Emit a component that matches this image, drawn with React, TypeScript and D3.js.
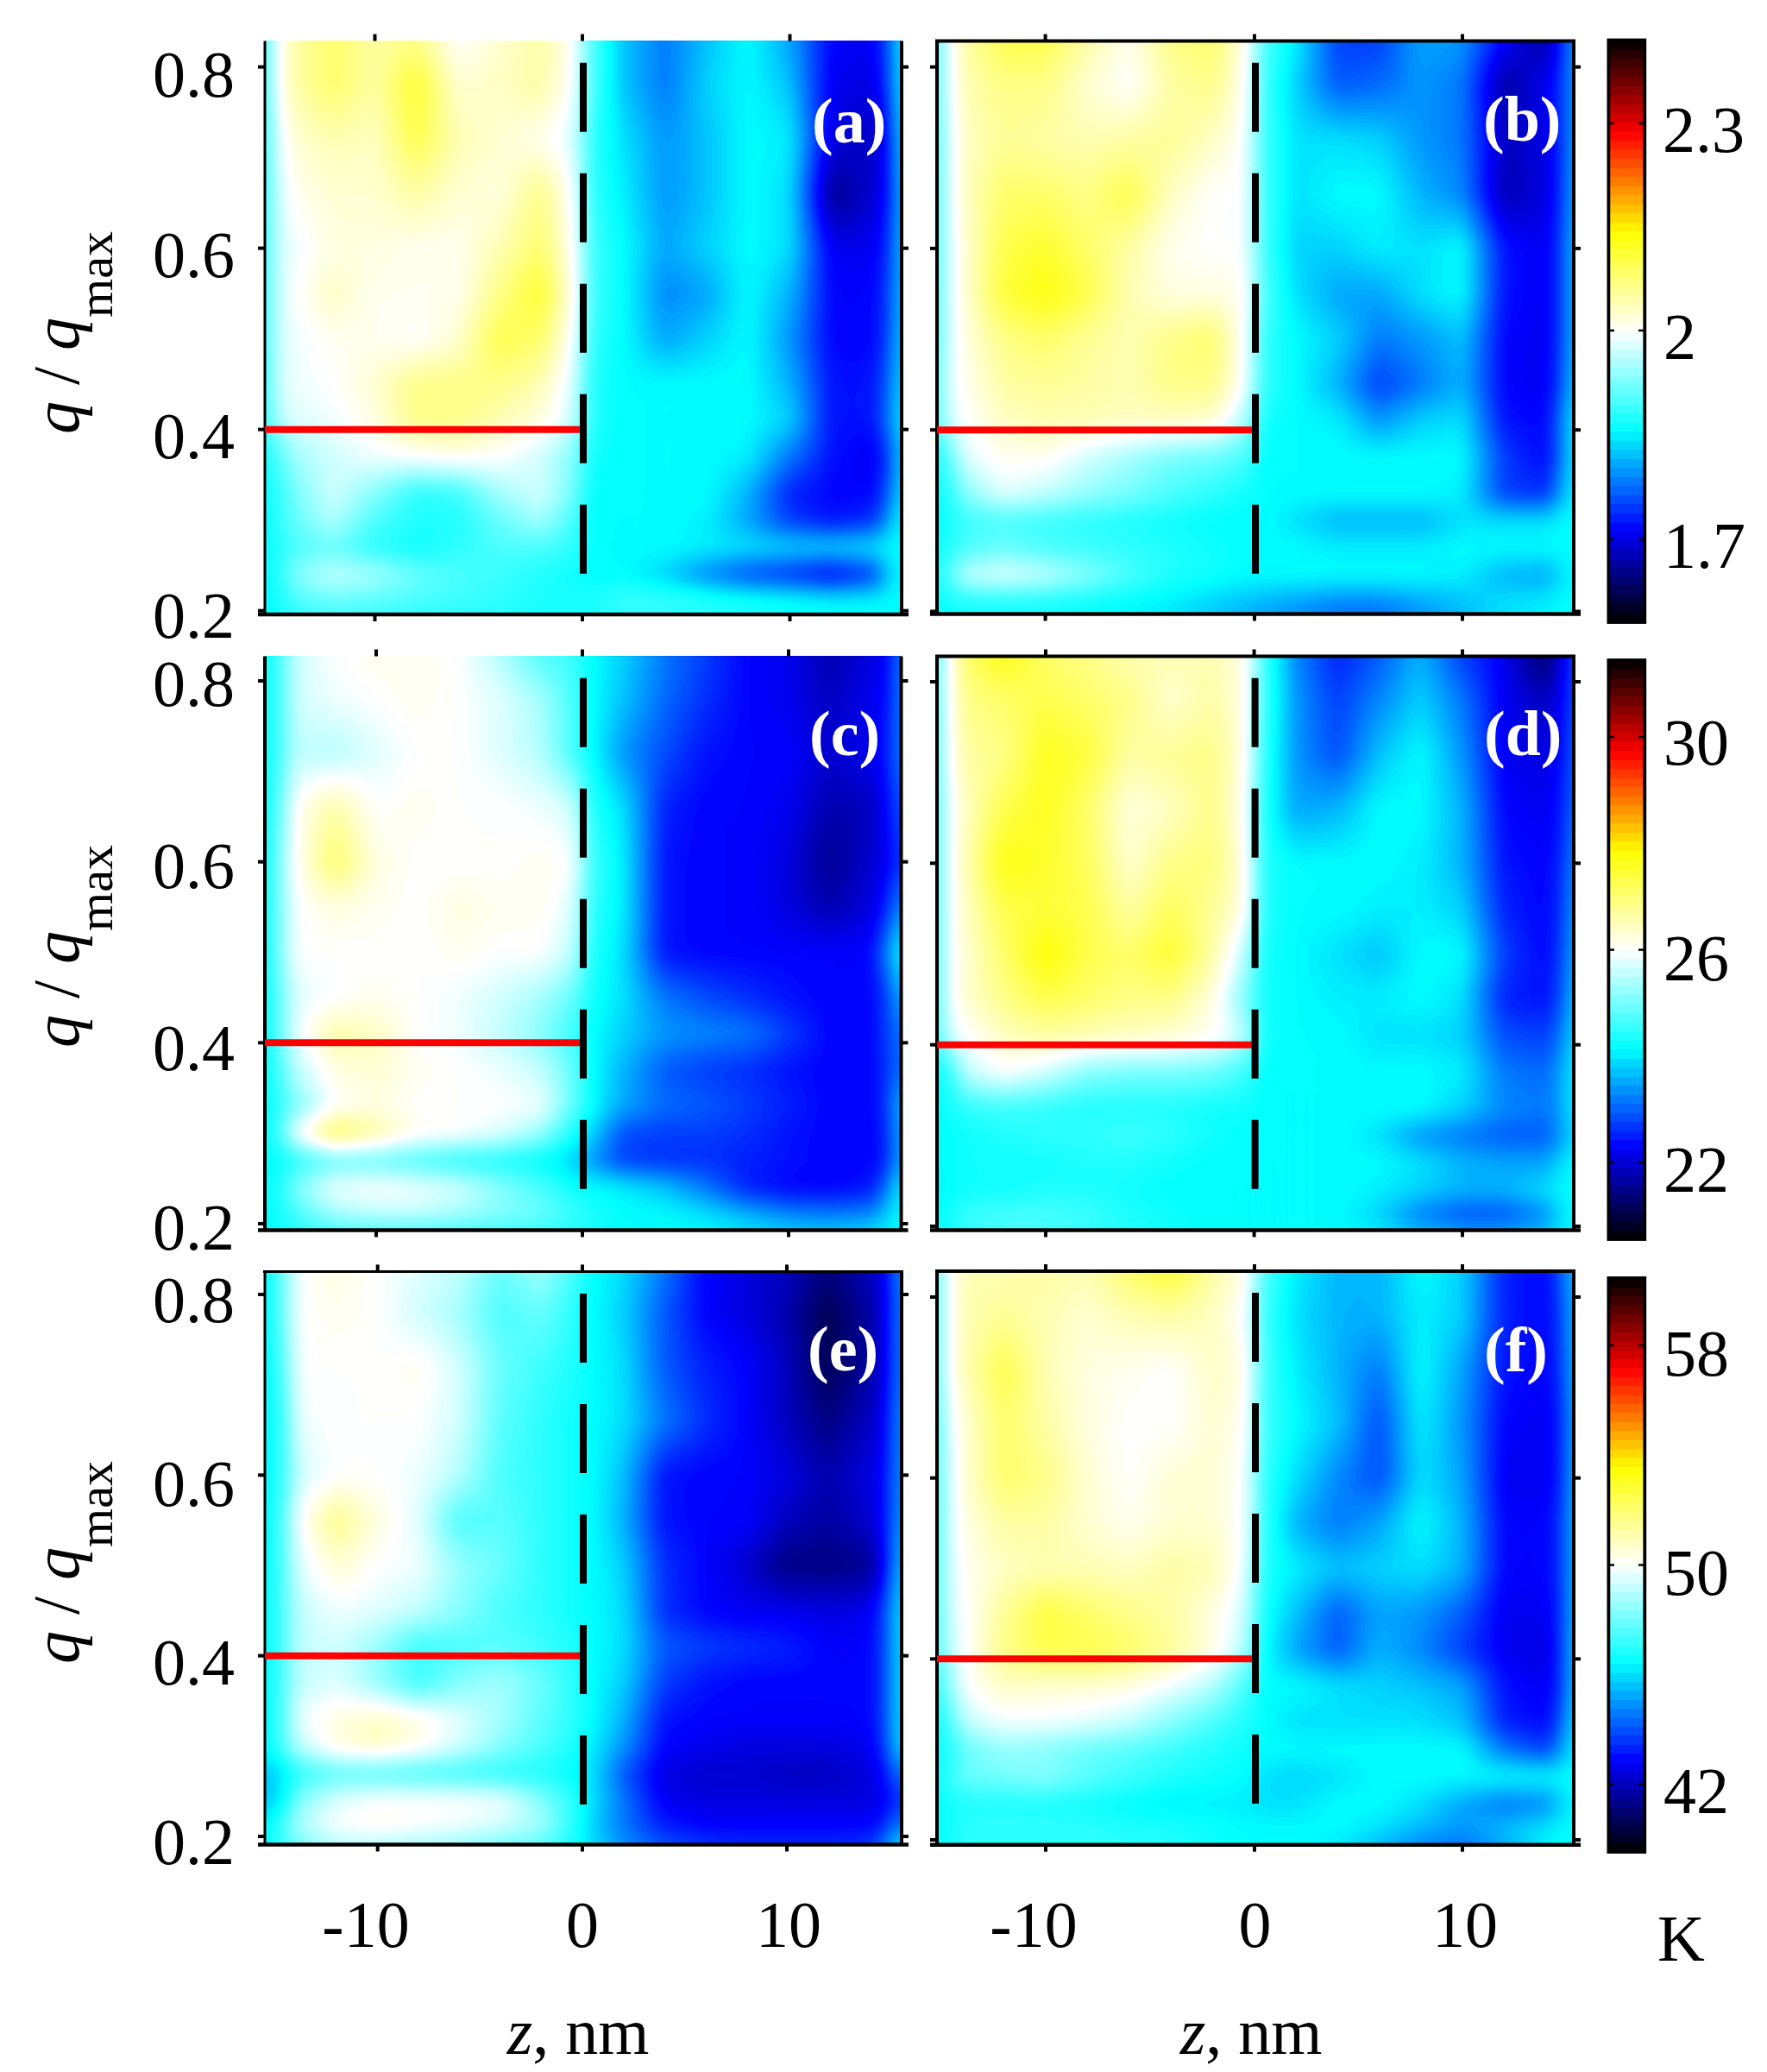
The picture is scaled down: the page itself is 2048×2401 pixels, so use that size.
import React, { useMemo } from "react";
import * as d3 from "d3";

// Sample positions of the maps
const columnZ = [-15.3,-14.7,-13.8,-12,-10,-8,-6,-4,-2,-0.5,0.5,2,4,6,8,10,12,14,14.8,15.3];
const rowQ = [0.83,0.78,0.72,0.66,0.60,0.55,0.50,0.45,0.41,0.37,0.33,0.30,0.27,0.24,0.21,0.19];

// Map values, as a position on the colour bar (0 = bottom, 50 = white, 100 = top)
const panelA = [
[35,50,56,60,56,58,50,53,56,51,38,29,24,29,33,27,16,15,22,33],
[35,50,56,60,56,64,53,54,56,50,38,29,24,30,33,29,15,14,20,33],
[35,48,53,55,54,62,55,53,51,48,36,31,26,29,33,32,14,12,17,32],
[35,47,51,53,53,56,53,52,58,50,36,32,26,29,33,31,9,13,17,30],
[35,47,49,52,52,51,51,55,60,51,37,33,27,30,33,31,15,15,19,30],
[35,47,50,54,51,51,51,58,64,52,37,33,25,27,33,28,16,16,20,30],
[35,47,49,51,51,50,53,62,60,50,36,33,27,30,33,26,16,16,21,30],
[35,47,49,50,53,58,58,58,55,48,35,33,33,33,33,28,17,17,23,31],
[35,45,48,49,52,58,58,55,52,47,35,33,33,33,33,30,17,17,24,32],
[34,38,44,47,49,50,51,50,47,42,34,33,33,33,32,24,17,15,20,31],
[33,36,41,47,42,36,37,44,47,41,33,33,33,33,28,18,16,16,22,32],
[33,36,40,45,38,35,35,40,44,38,33,33,33,32,27,20,17,19,27,33],
[33,35,38,40,36,34,36,38,38,36,33,33,33,32,31,30,30,31,33,33],
[33,35,42,46,44,40,38,37,35,34,33,33,30,25,21,19,16,20,30,33],
[33,34,38,40,39,38,37,36,35,35,35,37,37,36,35,34,33,33,33,33],
[33,34,35,36,36,35,35,35,34,34,34,35,35,34,34,33,33,33,33,33],
];
const panelB = [
[33,48,56,62,62,56,51,58,60,52,38,32,20,20,27,26,16,10,18,28],
[33,48,55,58,58,53,50,56,58,51,37,30,22,23,26,24,10,15,19,28],
[33,47,54,57,56,55,56,57,54,50,37,31,31,30,26,24,12,14,19,28],
[33,47,54,60,60,58,62,54,50,50,37,31,33,33,28,25,11,14,19,29],
[33,47,53,62,64,60,56,51,50,50,37,30,30,32,31,33,17,15,20,30],
[33,47,53,63,66,62,55,52,52,51,38,31,27,27,31,33,17,15,20,30],
[33,47,52,58,60,57,55,58,60,50,36,33,30,24,26,29,16,15,20,30],
[33,48,51,56,57,56,55,58,58,50,36,33,28,20,24,28,16,15,21,31],
[33,47,50,54,55,55,54,54,53,45,34,33,32,26,30,31,17,16,24,33],
[33,38,48,51,51,47,44,41,40,38,33,33,33,33,33,33,20,16,24,33],
[33,35,42,48,46,43,41,38,36,34,33,33,33,33,33,32,20,19,27,33],
[33,34,37,38,37,36,35,34,33,33,33,31,28,28,28,31,31,31,33,33],
[33,35,38,40,38,37,36,35,34,33,33,33,32,32,32,33,33,33,33,33],
[33,38,46,48,46,42,38,35,34,33,33,33,33,33,33,32,28,27,31,33],
[33,34,35,35,35,34,33,32,30,29,28,27,25,25,27,29,31,32,33,33],
[33,33,33,33,33,33,32,31,29,27,26,24,22,22,25,28,31,32,33,33],
];
const panelC = [
[33,38,47,50,51,51,50,45,38,37,33,30,24,20,16,15,11,14,15,25],
[33,38,47,49,50,51,50,48,44,38,33,29,23,19,16,15,12,15,16,25],
[33,38,46,45,48,50,50,48,45,38,33,26,21,17,16,16,13,15,17,25],
[33,40,51,56,50,51,50,50,49,47,35,31,18,16,16,15,11,12,16,22],
[33,42,51,60,52,50,50,50,51,50,37,32,17,16,16,14,9,13,15,20],
[33,42,50,52,51,50,52,51,51,48,36,32,17,16,16,14,11,14,18,26],
[33,42,50,50,50,50,51,50,50,46,35,31,17,16,16,16,16,16,25,33],
[33,40,48,50,51,50,49,47,44,40,34,31,24,21,19,17,16,16,20,28],
[33,40,49,56,54,50,49,46,42,37,33,30,26,25,24,20,16,16,20,24],
[33,38,46,52,53,51,50,49,46,40,33,28,22,20,19,17,16,16,19,24],
[33,36,42,50,52,50,50,50,49,40,33,27,23,22,20,18,16,16,19,29],
[33,38,50,61,56,51,50,48,43,35,30,21,20,20,19,17,16,16,18,28],
[33,33,36,40,40,38,36,35,33,30,26,20,19,19,18,17,16,16,18,28],
[33,35,42,49,50,49,47,42,38,34,33,32,29,24,18,16,16,17,24,32],
[33,34,38,44,46,46,44,42,40,37,35,33,33,31,28,25,24,25,30,33],
[33,34,35,36,36,36,36,36,36,35,34,33,33,33,32,31,31,32,33,33],
];
const panelD = [
[33,50,60,66,60,58,55,55,55,52,37,25,18,22,28,20,15,6,14,22],
[33,50,58,60,62,60,58,53,56,52,37,26,20,25,30,24,15,12,15,23],
[33,50,56,58,65,63,56,57,58,52,36,26,21,29,33,26,15,14,16,24],
[33,49,54,62,65,60,52,54,58,51,35,27,28,33,33,28,16,15,17,25],
[33,49,55,66,64,61,53,58,59,52,35,33,33,33,32,28,17,16,18,27],
[33,49,54,62,63,62,56,61,57,52,35,33,33,32,32,30,18,16,19,28],
[33,49,53,60,67,62,60,64,56,46,34,33,31,29,33,33,20,16,20,29],
[33,49,53,58,62,60,58,58,52,42,34,33,32,32,33,31,18,17,21,31],
[33,47,50,54,56,55,54,53,51,46,34,33,33,31,31,30,21,20,24,32],
[33,35,46,50,47,42,41,41,40,37,33,33,33,33,33,32,24,23,27,33],
[33,34,36,37,36,35,35,35,34,34,33,33,33,33,33,30,25,24,27,33],
[33,33,34,35,36,36,37,36,34,33,33,33,33,31,26,24,22,22,26,32],
[33,33,34,34,34,35,35,34,33,33,33,33,33,33,31,28,27,27,31,33],
[32,33,34,34,35,35,34,33,33,33,33,33,33,32,30,28,28,31,33,33],
[33,34,37,38,38,37,35,34,33,33,33,33,33,30,24,21,21,25,31,33],
[33,34,36,37,37,36,35,34,33,33,33,33,33,33,32,31,31,32,33,33],
];
const panelE = [
[33,40,50,52,50,48,46,40,44,38,33,31,24,16,14,12,8,12,14,25],
[33,40,50,51,50,47,44,38,40,36,33,30,22,16,14,11,5,10,14,24],
[33,38,50,50,50,51,47,40,37,35,33,31,22,18,16,12,5,10,14,24],
[33,36,49,50,50,50,47,39,36,34,33,31,24,19,16,12,8,12,15,25],
[33,36,47,50,50,49,45,38,36,34,33,29,17,16,16,14,11,14,16,25],
[33,38,50,58,52,48,38,39,36,34,33,28,17,16,16,12,10,13,16,26],
[33,38,48,53,50,49,43,40,36,34,33,30,19,16,13,8,8,9,15,28],
[33,38,46,49,48,46,42,38,36,34,33,31,19,16,15,15,14,15,20,30],
[33,38,46,47,43,37,38,39,37,35,33,31,22,20,19,18,16,16,20,30],
[33,38,46,48,43,37,42,44,40,36,33,30,20,17,16,16,16,16,20,30],
[33,38,49,52,54,52,48,44,39,36,33,28,17,16,16,16,16,16,20,30],
[33,38,46,52,54,51,47,42,38,35,32,26,16,15,14,14,14,15,19,30],
[29,31,36,39,39,38,37,36,35,33,31,22,14,13,13,12,12,14,16,24],
[29,32,42,48,50,50,50,49,42,36,31,24,15,14,14,14,14,14,15,19],
[33,38,45,50,51,50,49,47,44,36,30,24,18,16,16,16,16,16,18,25],
[33,36,40,44,44,43,42,40,38,34,31,26,22,20,19,19,19,20,25,31],
];
const panelF = [
[33,50,55,55,56,55,60,64,56,52,38,32,28,28,33,30,18,16,22,30],
[33,50,55,57,55,53,55,56,54,50,37,31,28,28,32,30,18,16,20,30],
[33,50,55,62,55,52,51,50,54,52,37,32,28,24,33,27,17,16,19,30],
[33,48,53,60,56,52,50,50,53,51,37,33,29,21,32,26,16,15,18,29],
[33,47,53,60,58,53,50,53,53,50,36,31,25,21,31,27,15,15,18,30],
[33,47,52,56,56,53,51,53,53,50,36,28,24,27,33,28,16,16,19,30],
[33,47,51,54,55,55,54,56,55,49,35,32,29,30,31,28,16,16,19,30],
[33,47,50,57,63,60,58,56,52,47,34,29,22,27,26,22,15,15,19,30],
[33,46,50,58,62,62,60,57,52,45,33,27,22,28,25,20,15,14,19,31],
[33,42,50,54,53,53,52,49,45,38,33,33,31,30,29,27,17,15,19,31],
[33,37,46,49,49,48,46,42,38,35,33,31,31,31,31,29,18,16,22,32],
[33,35,40,43,42,40,39,37,35,34,33,33,33,33,33,33,24,20,26,33],
[33,36,40,41,42,39,37,35,34,33,31,30,31,33,33,33,33,33,33,33],
[33,34,35,35,35,34,33,32,32,32,31,31,33,33,31,27,24,25,30,33],
[33,34,36,36,36,36,35,35,34,33,33,33,33,31,28,26,29,32,33,33],
[33,34,36,36,36,36,36,35,33,33,33,33,31,27,23,22,26,32,33,33],
];

const panelNames = ["(a)", "(b)", "(c)", "(d)", "(e)", "(f)"];
const zTicks = [-10, 0, 10];
const qTicks = [0.2, 0.4, 0.6, 0.8];
const qTickLabels = ["0.2", "0.4", "0.6", "0.8"];
const barTicks1 = ["2.3", "2", "1.7"];
const barTicks2 = ["30", "26", "22"];
const barTicks3 = ["58", "50", "42"];
const dividerQ = 0.4;

// Colour map of the bars
const colourStops = [0, 16, 33, 50, 67, 84, 100];
const colourValues = ["#000000", "#0000ff", "#00ffff", "#ffffff", "#ffff00", "#ff0000", "#000000"];

const colour = d3.scaleLinear<string>().domain(colourStops).range(colourValues).interpolate(d3.interpolateRgb).clamp(true);

const FONT = "'Liberation Serif', 'Times New Roman', serif";
const FS = 76;
const CELL = 4;

// Layout
const layout = [
  { grid: panelA, name: 0, x0: 307, x1: 1045, y0: 47.5, y1: 712, z10: [434.5, 675, 915.5], q: [707.7, 77.6], top: false, dash: 72.7, lx: 941, ly: 165, leftW: 3 },
  { grid: panelB, name: 1, x0: 1086, x1: 1824, y0: 47.5, y1: 711.5, z10: [1211.6, 1454, 1695], q: [708.5, 77.6], top: true, dash: 72.7, lx: 1719, ly: 163, leftW: 4 },
  { grid: panelC, name: 2, x0: 307, x1: 1044.5, y0: 760.5, y1: 1425.5, z10: [436, 675, 914], q: [1418, 789], top: false, dash: 785.8, lx: 938, ly: 875, leftW: 4 },
  { grid: panelD, name: 3, x0: 1086, x1: 1824, y0: 760.5, y1: 1425.5, z10: [1212, 1453.6, 1695], q: [1421, 790], top: true, dash: 785.8, lx: 1720, ly: 875, leftW: 4 },
  { grid: panelE, name: 4, x0: 307, x1: 1045, y0: 1473.4, y1: 2137.5, z10: [437.7, 675, 912], q: [2128, 1500], top: true, dash: 1499, lx: 936, ly: 1588, leftW: 3 },
  { grid: panelF, name: 5, x0: 1086, x1: 1824, y0: 1473, y1: 2137.7, z10: [1212, 1454, 1695], q: [2132, 1503], top: true, dash: 1498, lx: 1720, ly: 1589, leftW: 4 },
];

const colourBars = [
  { y0: 46.5, y1: 721, labels: barTicks1, tickY: [143, 383, 625], base: [175.5, 416, 658], lx: [1927, 1928, 1928] },
  { y0: 765, y1: 1436, labels: barTicks2, tickY: [854, 1100.6, 1347], base: [886, 1136, 1381], lx: [1928, 1928, 1928] },
  { y0: 1481, y1: 2146, labels: barTicks3, tickY: [1559, 1813.5, 2067.5], base: [1594, 1848, 2101], lx: [1928, 1928, 1928] },
];

const rowLabels = [
  { ticks: [739, 531, 321, 111.5], ylabel: 503 },
  { ticks: [1448, 1240, 1029, 818], ylabel: 1214 },
  { ticks: [2160, 1952, 1745, 1532], ylabel: 1928 },
];

const levelStep = 0.5;
const levels = d3.range(0, 80, levelStep);

function buildMap(p: (typeof layout)[number]) {
  const w = p.x1 - p.x0;
  const h = p.y1 - p.y0;
  const nx = Math.round(w / CELL);
  const ny = Math.round(h / CELL);
  const zScale = d3.scaleLinear().domain([-10, 0, 10]).range(p.z10);
  const qScale = d3.scaleLinear().domain([0.2, 0.8]).range(p.q);
  const colIndex = d3.scaleLinear().domain(columnZ).range(d3.range(columnZ.length)).clamp(true);
  const rowIndex = d3.scaleLinear().domain(rowQ).range(d3.range(rowQ.length)).clamp(true);
  const data = new Float64Array(nx * ny);
  for (let j = 0; j < ny; j++) {
    const q = qScale.invert(p.y0 + ((j + 0.5) * h) / ny);
    const rf = rowIndex(q);
    const r0 = Math.min(Math.floor(rf), rowQ.length - 2);
    const rt = rf - r0;
    for (let i = 0; i < nx; i++) {
      const z = zScale.invert(p.x0 + ((i + 0.5) * w) / nx);
      const cf = colIndex(z);
      const c0 = Math.min(Math.floor(cf), columnZ.length - 2);
      const ct = cf - c0;
      const a = p.grid[r0][c0] * (1 - ct) + p.grid[r0][c0 + 1] * ct;
      const b = p.grid[r0 + 1][c0] * (1 - ct) + p.grid[r0 + 1][c0 + 1] * ct;
      data[j * nx + i] = a * (1 - rt) + b * rt;
    }
  }
  d3.blur2({ data, width: nx, height: ny }, 1.6);
  const path = d3.geoPath();
  const contours = d3.contours().size([nx, ny]).thresholds(levels)(Array.from(data));
  const bands = contours
    .filter((c) => c.coordinates.length > 0)
    .map((c) => ({ d: path(c as any) as string, fill: colour(c.value + levelStep / 2) }));
  return { bands, sx: w / nx, sy: h / ny, zScale, qScale, base: colour(d3.min(data) as number) };
}

const txt = { fontFamily: FONT, fontSize: FS, fill: "#000" } as const;

function Panel({ p }: { p: (typeof layout)[number] }) {
  const m = useMemo(() => buildMap(p), [p]);
  const tick = { stroke: "#000", strokeWidth: 4 };
  const zeroX = m.zScale(0);
  return (
    <g>
      <rect x={p.x0} y={p.y0} width={p.x1 - p.x0} height={p.y1 - p.y0} fill={m.base} />
      <g transform={`translate(${p.x0},${p.y0}) scale(${m.sx},${m.sy})`}>
        {m.bands.map((b, i) => (
          <path key={i} d={b.d} fill={b.fill} />
        ))}
      </g>
      {/* ticks */}
      {qTicks.map((q) => (
        <g key={q}>
          <line x1={p.x0 - 8} x2={p.x0} y1={m.qScale(q)} y2={m.qScale(q)} {...tick} />
          <line x1={p.x1} x2={p.x1 + 8} y1={m.qScale(q)} y2={m.qScale(q)} {...tick} />
        </g>
      ))}
      {zTicks.map((z) => (
        <g key={z}>
          <line x1={m.zScale(z)} x2={m.zScale(z)} y1={p.y0 - 8} y2={p.y0} {...tick} />
          <line x1={m.zScale(z)} x2={m.zScale(z)} y1={p.y1} y2={p.y1 + 8} {...tick} />
        </g>
      ))}
      {/* frame */}
      <line x1={p.x0} x2={p.x0} y1={p.y0} y2={p.y1} stroke="#000" strokeWidth={p.leftW} />
      <line x1={p.x1} x2={p.x1} y1={p.y0} y2={p.y1} stroke="#000" strokeWidth={4} />
      <line x1={p.x0 - 8} x2={p.x1 + 8} y1={p.y1} y2={p.y1} stroke="#000" strokeWidth={4.5} />
      {p.top && <line x1={p.x0 - 2} x2={p.x1 + 2} y1={p.y0} y2={p.y0} stroke="#000" strokeWidth={p.name === 4 ? 3 : 4} />}
      {/* divider lines */}
      <line x1={p.x0} x2={zeroX} y1={m.qScale(dividerQ)} y2={m.qScale(dividerQ)} stroke="#ff0000" strokeWidth={8} />
      <line x1={zeroX + 1} x2={zeroX + 1} y1={p.dash} y2={p.dash + 592} stroke="#000" strokeWidth={8} strokeDasharray="80 48" />
      <text x={p.lx} y={p.ly} fontFamily={FONT} fontSize={74} fontWeight="bold" fill="#fff">
        {panelNames[p.name]}
      </text>
    </g>
  );
}

function ColourBar({ b }: { b: (typeof colourBars)[number] }) {
  const n = 64;
  const y = d3.scaleLinear().domain([0, n]).range([b.y1, b.y0]);
  return (
    <g>
      {d3.range(n).map((i) => (
        <rect key={i} x={1865} width={40} y={y(i + 1)} height={y(i) - y(i + 1) + 0.5} fill={colour(((i + 0.5) / n) * 100)} shapeRendering="crispEdges" />
      ))}
      <rect x={1864.4} y={b.y0} width={41.9} height={b.y1 - b.y0} fill="none" stroke="#000" strokeWidth={3.8} />
      {b.labels.map((l, i) => (
        <g key={l}>
          <line x1={1865} x2={1871} y1={b.tickY[i]} y2={b.tickY[i]} stroke="#000" strokeWidth={2.5} />
          <line x1={1899} x2={1905} y1={b.tickY[i]} y2={b.tickY[i]} stroke="#000" strokeWidth={2.5} />
          <text x={b.lx[i]} y={b.base[i]} {...txt}>{l}</text>
        </g>
      ))}
    </g>
  );
}

export default function App() {
  return (
    <svg width={2048} height={2401} viewBox="0 0 2048 2401" style={{ position: "absolute", left: 0, top: 0, display: "block", background: "#fff" }}>
      {layout.map((p) => (
        <Panel key={p.name} p={p} />
      ))}
      {colourBars.map((b, i) => (
        <ColourBar key={i} b={b} />
      ))}
      {rowLabels.map((r, i) => (
        <g key={i}>
          {r.ticks.map((y, k) => (
            <text key={k} x={272} y={y} textAnchor="end" {...txt}>{qTickLabels[k]}</text>
          ))}
          <text transform={`translate(91,${r.ylabel}) rotate(-90)`} {...txt}>
            <tspan fontStyle="italic">q</tspan>
            <tspan> / </tspan>
            <tspan fontStyle="italic">q</tspan>
            <tspan dy={39} fontSize={58}>max</tspan>
          </text>
        </g>
      ))}
      {[{ c: [424, 675, 914], m: 670 }, { c: [1198, 1454.5, 1698], m: 1450 }].map((col, i) => (
        <g key={i}>
          {zTicks.map((z, k) => (
            <text key={z} x={col.c[k]} y={2255.5} textAnchor="middle" {...txt}>{String(z)}</text>
          ))}
          <text x={col.m} y={2380} textAnchor="middle" {...txt}>
            <tspan fontStyle="italic">z</tspan>, nm
          </text>
        </g>
      ))}
      <text x={1921} y={2272} {...txt}>K</text>
    </svg>
  );
}
